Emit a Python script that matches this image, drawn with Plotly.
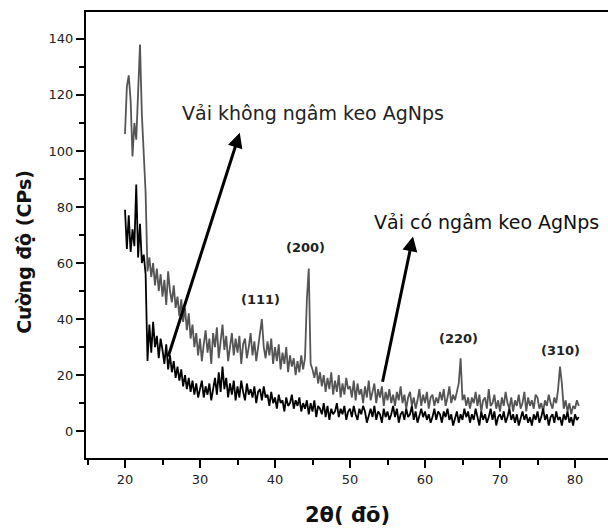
import plotly.graph_objects as go

# 2-theta grid start/step (instrument sampling)
theta_start = 20.0
theta_step = 0.25

# Intensity (CPs) - fabric soaked in AgNps colloid (grey curve)
gray_cps = [
    106, 123, 127, 118,   # 20
    98, 110, 104, 122,    # 21
    138, 113, 96, 85,     # 22
    57, 62, 55, 60,       # 23
    52, 58, 50, 56,       # 24
    48, 54, 45, 57,       # 25
    50, 46, 52, 44,       # 26
    48, 41, 47, 39,       # 27
    44, 36, 42, 33,       # 28
    38, 30, 35, 27,       # 29
    33, 25, 31, 36,       # 30
    28, 33, 24, 35,       # 31
    30, 37, 26, 32,       # 32
    38, 29, 34, 25,       # 33
    31, 35, 27, 33,       # 34
    28, 34, 24, 31,       # 35
    33, 26, 30, 35,       # 36
    27, 32, 25, 30,       # 37
    34, 40, 30, 26,       # 38
    32, 27, 33, 24,       # 39
    30, 25, 31, 22,       # 40
    28, 24, 30, 21,       # 41
    27, 23, 26, 20,       # 42
    25, 21, 27, 22,       # 43
    26, 47, 58, 24,       # 44
    22, 19, 23, 17,       # 45
    21, 16, 20, 14,       # 46
    19, 15, 21, 13,       # 47
    18, 14, 20, 12,       # 48
    17, 13, 19, 15,       # 49
    16, 12, 18, 11,       # 50
    17, 13, 15, 10,       # 51
    16, 12, 18, 11,       # 52
    14, 17, 10, 15,       # 53
    12, 16, 9, 14,        # 54
    11, 15, 10, 13,       # 55
    9, 14, 11, 16,        # 56
    10, 13, 8, 12,        # 57
    14, 9, 12, 8,         # 58
    11, 15, 9, 13,        # 59
    10, 14, 8, 12,        # 60
    13, 9, 12, 10,        # 61
    14, 11, 15, 9,        # 62
    12, 16, 10, 13,       # 63
    11, 14, 17, 26,       # 64
    11, 13, 9, 12,        # 65
    8, 12, 10, 14,        # 66
    9, 13, 7, 11,         # 67
    12, 8, 15, 9,         # 68
    10, 13, 8, 11,        # 69
    7, 12, 9, 14,         # 70
    10, 8, 12, 7,         # 71
    11, 9, 13, 8,         # 72
    10, 14, 7, 12,        # 73
    9, 11, 8, 13,         # 74
    12, 8, 10, 7,         # 75
    11, 9, 13, 10,        # 76
    8, 12, 10, 15,        # 77
    23, 17, 8, 11,        # 78
    7, 10, 6, 9,          # 79
    8, 11, 9,             # 80
]

# Intensity (CPs) - fabric not soaked (black curve)
black_cps = [
    79, 65, 77, 64,       # 20
    72, 66, 88, 62,       # 21
    74, 60, 63, 56,       # 22
    25, 38, 28, 39,       # 23
    30, 34, 26, 33,       # 24
    29, 24, 31, 22,       # 25
    27, 21, 25, 19,       # 26
    23, 18, 22, 16,       # 27
    20, 15, 19, 14,       # 28
    18, 13, 17, 12,       # 29
    15, 18, 12, 16,       # 30
    13, 17, 11, 15,       # 31
    19, 13, 21, 14,       # 32
    23, 15, 19, 12,       # 33
    17, 13, 18, 11,       # 34
    16, 12, 18, 14,       # 35
    11, 17, 13, 15,       # 36
    12, 16, 10, 14,       # 37
    15, 11, 16, 12,       # 38
    13, 9, 14, 10,        # 39
    12, 8, 13, 10,        # 40
    11, 7, 12, 9,         # 41
    10, 13, 8, 11,        # 42
    9, 12, 7, 10,         # 43
    8, 11, 6, 10,         # 44
    7, 11, 5, 9,          # 45
    8, 6, 10, 5,          # 46
    9, 4, 8, 6,           # 47
    7, 10, 5, 8,          # 48
    6, 9, 4, 7,           # 49
    8, 5, 9, 6,           # 50
    4, 8, 6, 9,           # 51
    7, 3, 6, 8,           # 52
    5, 9, 4, 7,           # 53
    6, 3, 8, 5,           # 54
    7, 4, 6, 9,           # 55
    5, 8, 3, 6,           # 56
    7, 4, 8, 5,           # 57
    6, 9, 4, 7,           # 58
    3, 6, 8, 5,           # 59
    7, 4, 6, 3,           # 60
    5, 8, 4, 7,           # 61
    6, 3, 7, 5,           # 62
    8, 4, 6, 2,           # 63
    5, 7, 3, 6,           # 64
    4, 8, 5, 7,           # 65
    3, 6, 4, 8,           # 66
    5, 2, 7, 4,           # 67
    6, 3, 5, 8,           # 68
    4, 7, 2, 5,           # 69
    6, 4, 7, 3,           # 70
    5, 8, 4, 6,           # 71
    3, 6, 2, 5,           # 72
    7, 4, 6, 3,           # 73
    5, 2, 6, 4,           # 74
    7, 3, 5, 8,           # 75
    4, 6, 2, 5,           # 76
    6, 3, 7, 4,           # 77
    5, 2, 6, 4,           # 78
    7, 3, 5, 2,           # 79
    6, 4, 5,              # 80
]

# Peak labels (Miller indices) and their positions
peak_labels = ["(111)", "(200)", "(220)", "(310)"]
peak_x = [38.0, 44.1, 64.5, 78.1]
peak_y = [46.8, 65.4, 33.2, 28.9]

# Sample annotations
label_without = "Vải không ngâm keo AgNps"
label_with = "Vải có ngâm keo AgNps"
x_title = "2θ( đõ)"
y_title = "Cường độ (CPs)"

x_tick_vals = [20, 30, 40, 50, 60, 70, 80]
y_tick_vals = [0, 20, 40, 60, 80, 100, 120, 140]

two_theta_g = [round(theta_start + theta_step * i, 2) for i in range(len(gray_cps))]
two_theta_b = [round(theta_start + theta_step * i, 2) for i in range(len(black_cps))]

FONT = "DejaVu Sans"

fig = go.Figure()
fig.add_trace(go.Scatter(x=two_theta_g, y=gray_cps, mode="lines",
                         line=dict(color="#555555", width=1.8), showlegend=False))
fig.add_trace(go.Scatter(x=two_theta_b, y=black_cps, mode="lines",
                         line=dict(color="#000000", width=1.8), showlegend=False))

annotations = []
for t, px, py in zip(peak_labels, peak_x, peak_y):
    annotations.append(dict(x=px, y=py, xref="x", yref="y", text="<b>%s</b>" % t,
                            showarrow=False, font=dict(family=FONT, size=13, color="#222")))

annotations.append(dict(x=27.3, y=113.6, xref="x", yref="y", text=label_without,
                        showarrow=False, xanchor="left", yanchor="middle",
                        font=dict(family=FONT, size=19, color="#222")))
annotations.append(dict(x=52.9, y=74.6, xref="x", yref="y", text=label_with,
                        showarrow=False, xanchor="left", yanchor="middle",
                        font=dict(family=FONT, size=19, color="#111")))
# arrows
annotations.append(dict(x=35.3, y=106.5, ax=25.7, ay=26.1, xref="x", yref="y",
                        axref="x", ayref="y", text="", showarrow=True,
                        arrowhead=2, arrowsize=1, arrowwidth=3, arrowcolor="#000"))
annotations.append(dict(x=58.4, y=69.5, ax=54.3, ay=17.1, xref="x", yref="y",
                        axref="x", ayref="y", text="", showarrow=True,
                        arrowhead=2, arrowsize=1, arrowwidth=3, arrowcolor="#000"))
# axis titles
annotations.append(dict(x=-0.119, y=0.462, xref="paper", yref="paper",
                        text="<b>%s</b>" % y_title, textangle=-90, showarrow=False,
                        xanchor="center", yanchor="middle",
                        font=dict(family=FONT, size=19, color="#111")))
annotations.append(dict(x=0.5, y=-0.128, xref="paper", yref="paper",
                        text="<b>%s</b>" % x_title, showarrow=False,
                        xanchor="center", yanchor="middle",
                        font=dict(family=FONT, size=21, color="#111")))

fig.update_layout(
    width=608, height=528,
    margin=dict(l=86, r=0, t=12, b=70),
    paper_bgcolor="white", plot_bgcolor="white",
    annotations=annotations,
    font=dict(family=FONT, color="#222"),
)
fig.update_xaxes(
    range=[14.8, 84.4], tickvals=x_tick_vals, ticks="outside", ticklen=8, tickwidth=2,
    tickcolor="#000", showline=True, linecolor="#000", linewidth=2, mirror=True,
    showgrid=False, zeroline=False, tickfont=dict(family=FONT, size=13, color="#222"),
    minor=dict(ticks="outside", ticklen=5, tickwidth=2, tickcolor="#000", dtick=5, tick0=15, showgrid=False),
)
fig.update_yaxes(
    range=[-9.6, 149.6], tickvals=y_tick_vals, ticks="outside", ticklen=8, tickwidth=2,
    tickcolor="#000", showline=True, linecolor="#000", linewidth=2,
    showgrid=False, zeroline=False, tickfont=dict(family=FONT, size=13, color="#222"),
    minor=dict(ticks="outside", ticklen=5, tickwidth=2, tickcolor="#000", dtick=10, tick0=0, showgrid=False),
)

fig.write_html("out.html")
